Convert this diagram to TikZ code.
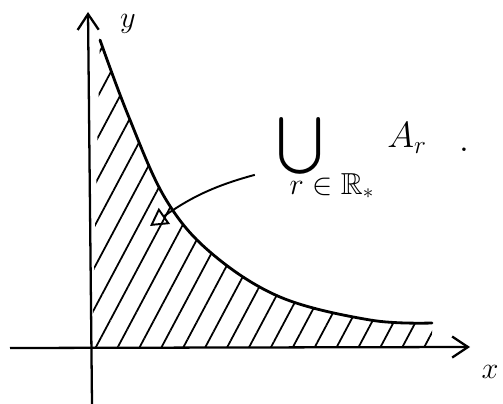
\documentclass[tikz,border=0pt]{standalone}
\usepackage{amsmath, amssymb}
\usepackage{tikz}
\usetikzlibrary{arrows.meta,patterns.meta,positioning}

\begin{document}
\begin{tikzpicture}[x=0.02cm, y=-0.02cm,
    axis/.style={line width=1.3pt, -{Straight Barb[length=9pt, width=12pt, line width=1.3pt]}},
    curve/.style={line width=1.6pt, line cap=round},
    hatch/.style={pattern={Lines[angle=62, distance=11pt, line width=1pt]}},
    pointer/.style={line width=1.1pt, -{Triangle[open, length=10pt, width=11pt, line width=1.1pt]}},
    lbl/.style={font=\LARGE, inner sep=1pt}
]
\useasboundingbox (0,0) rectangle (503,404);

% Hatched region under the curve
\fill [hatch] (92,40) -- (100,40)
    plot [smooth, tension=0.6] coordinates {(100,40) (128,115) (165,198) (210,252) (280,297) (370,320) (432,323)}
    -- (432,347) -- (92,347) -- cycle;

% Axes
\draw [axis] (10,348) -- (470,347) coordinate (xend);
\draw [axis] (92,404) -- (88,12) coordinate (yend);
\node [lbl] (ylbl) at (128,24) {$y$};
\node [lbl] (xlbl) at (490,372) {$x$};

% Curve
\draw [curve] plot [smooth, tension=0.6] coordinates {(100,40) (128,115) (165,198) (210,252) (280,297) (370,320) (432,323)};

% Label
\node [inner sep=0pt, scale=1.3, font=\Huge] (union) at (300,146) {$\bigcup$};
\node [inner sep=0pt, font=\LARGE] (index) at (332,186) {$r\in\mathbb{R}_*$};
\node [lbl, font=\huge] (ar) at (407,138) {$A_r$};
\node [lbl, font=\huge] (dot) at (464,150) {$.$};

% Pointer into the region
\coordinate [left=12pt of union.south west] (tail);
\coordinate (inside) at (150,226);
\draw [pointer] (tail) to [out=195, in=35] (inside);

\end{tikzpicture}
\end{document}
